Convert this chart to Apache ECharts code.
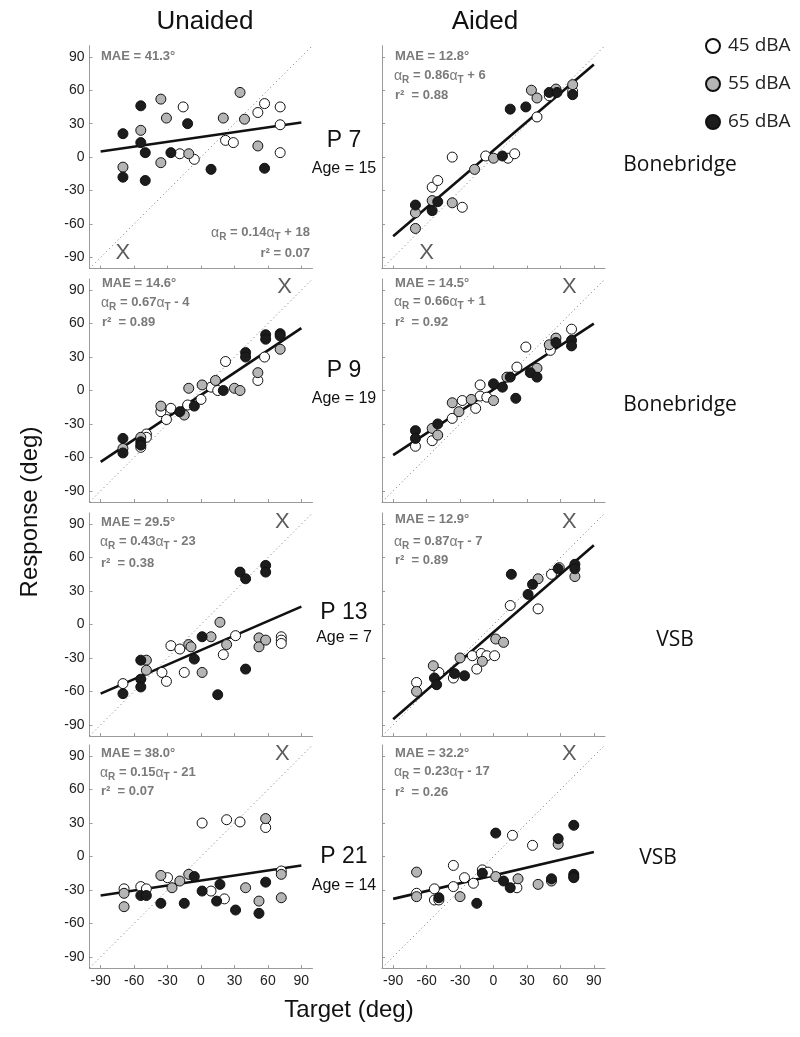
<!DOCTYPE html>
<html><head><meta charset="utf-8">
<script src="https://cdn.jsdelivr.net/npm/echarts@6/dist/echarts.min.js"></script>
<style>html,body{margin:0;padding:0;background:#fff}#c{width:800px;height:1037px}</style>
</head><body><div id="c"></div>
<script>
// ---------- data ----------
const ticks = [-90, -60, -30, 0, 30, 60, 90];
const conditions = ['Unaided', 'Aided'];
const participants = ['P 7', 'P 9', 'P 13', 'P 21'];
const ages = ['Age = 15', 'Age = 19', 'Age = 7', 'Age = 14'];
const devices = ['Bonebridge', 'Bonebridge', 'VSB', 'VSB'];
const levels = ['45 dBA', '55 dBA', '65 dBA'];

// P7 unaided
const p7U_45 = [[-19,3],[-16,45],[-6,-2],[22,15],[29,13],[51,40],[57,48],[71,45],[71,29],[71,4]];
const p7U_55 = [[-70,-9],[-54,24],[-36,52],[-36,-5],[-31,35],[-11,3],[20,35],[35,58],[39,34],[51,10]];
const p7U_65 = [[-70,21],[-70,-18],[-54,46],[-54,13],[-50,4],[-50,-21],[-27,4],[-12,30],[9,-11],[57,-10]];
// P7 aided
const p7A_45 = [[-55,-27],[-50,-21],[-37,0],[-28,-45],[-7,1],[13,-1],[19,3],[39,36],[50,55],[71,59]];
const p7A_55 = [[-70,-50],[-70,-64],[-55,-39],[-37,-41],[-17,-11],[0,-1],[34,60],[39,53],[56,61],[71,65]];
const p7A_65 = [[-70,-43],[-50,-40],[-55,-48],[8,1],[15,43],[29,45],[50,58],[57,58],[71,56]];
// P9 unaided
const p9U_45 = [[-54,-51],[-49,-39],[-49,-42],[-36,-19],[-31,-26],[-27,-16],[-12,-13],[0,-8],[9,3],[15,0],[22,26],[51,9],[57,30]];
const p9U_55 = [[-70,-52],[-54,-42],[-36,-14],[-15,-22],[-11,2],[1,5],[13,9],[30,2],[35,0],[51,16],[71,37]];
const p9U_65 = [[-70,-43],[-70,-56],[-54,-46],[-54,-49],[-19,-19],[-6,-14],[20,0],[40,34],[40,30],[58,50],[58,46],[71,51],[71,49]];
// P9 aided
const p9A_45 = [[-70,-50],[-55,-45],[-37,-25],[-28,-9],[-16,-16],[-12,5],[-12,-5],[-6,-6],[21,21],[29,39],[51,36],[70,55]];
const p9A_55 = [[-55,-34],[-50,-40],[-37,-11],[-31,-19],[-20,-8],[0,-9],[12,12],[39,20],[50,41],[56,47]];
const p9A_65 = [[-70,-36],[-70,-43],[-50,-30],[0,6],[8,3],[15,12],[20,-7],[33,16],[39,12],[56,43],[70,45],[70,40]];
// P13 unaided
const p13U_45 = [[-70,-53],[-35,-43],[-31,-51],[-27,-19],[-19,-22],[-15,-43],[20,-27],[31,-10],[72,-11],[72,-14],[72,-17]];
const p13U_55 = [[-49,-32],[-49,-41],[-11,-18],[-9,-20],[1,-43],[9,-11],[17,2],[23,-18],[52,-12],[52,-20],[58,-14]];
const p13U_65 = [[-70,-62],[-54,-32],[-54,-49],[-54,-56],[-6,-31],[1,-11],[15,-63],[35,47],[40,41],[40,-40],[58,53],[58,47]];
// P13 aided
const p13A_45 = [[-69,-52],[-49,-43],[-36,-48],[-19,-28],[-15,-40],[-11,-26],[-6,-28],[1,-28],[15,17],[40,14],[52,45],[59,51]];
const p13A_55 = [[-69,-60],[-54,-37],[-30,-30],[-10,-33],[2,-13],[9,-16],[40,41],[73,43]];
const p13A_65 = [[-53,-48],[-51,-54],[-35,-44],[-26,-46],[16,45],[31,27],[35,36],[58,50],[73,54],[73,50]];
// P21 unaided
const p21U_45 = [[-69,-29],[-54,-27],[-49,-29],[-30,-19],[1,30],[9,-31],[21,-38],[23,33],[35,31],[58,26],[72,-13]];
const p21U_55 = [[-69,-33],[-69,-45],[-36,-17],[-26,-28],[-19,-22],[-11,-16],[40,-28],[52,-40],[58,34],[72,-16],[72,-37]];
const p21U_65 = [[-54,-35],[-49,-35],[-36,-42],[-15,-42],[-6,-18],[1,-31],[14,-40],[17,-25],[31,-48],[52,-51],[58,-23]];
// P21 aided
const p21A_45 = [[-69,-33],[-53,-29],[-53,-39],[-49,-39],[-36,-8],[-36,-27],[-26,-19],[-18,-24],[-10,-12],[-5,-14],[17,19],[21,-28],[35,10]];
const p21A_55 = [[-69,-14],[-69,-36],[-30,-36],[2,-18],[22,-20],[40,-25],[52,-22],[58,11]];
const p21A_65 = [[-49,-37],[-15,-42],[-10,-15],[2,21],[9,-22],[15,-28],[52,-20],[58,16],[72,28],[72,-16],[72,-18],[72,-19]];

// regression line end points
const fitLines = [
  [[-90,5],[90,31]],   [[-90,-71],[90,83]],
  [[-90,-64],[90,56]], [[-90,-58],[90,60]],
  [[-90,-62],[90,16]], [[-90,-85],[90,71]],
  [[-90,-35],[90,-8]], [[-90,-38],[90,4]]
];
// X marker positions
const xMarks = [[-70,-86],[-60,-86],[75,93],[68,93],[73,92],[68,92],[73,92],[68,92]];
// stats
const maeVals = ['41.3','12.8','14.6','14.5','29.5','12.9','38.0','32.2'];
const slopeVals = ['0.14','0.86','0.67','0.66','0.43','0.87','0.15','0.23'];
const interceptVals = ['+ 18','+ 6','- 4','+ 1','- 23','- 7','- 21','- 17'];
const r2Vals = ['0.07','0.88','0.89','0.92','0.38','0.89','0.07','0.26'];

const panelData = [
  [p7U_45,p7U_55,p7U_65],[p7A_45,p7A_55,p7A_65],
  [p9U_45,p9U_55,p9U_65],[p9A_45,p9A_55,p9A_65],
  [p13U_45,p13U_55,p13U_65],[p13A_45,p13A_55,p13A_65],
  [p21U_45,p21U_55,p21U_65],[p21A_45,p21A_55,p21A_65]
];

// ---------- layout / style ----------
const colLeft = [89.5, 382];
const rowTop = [45.6, 279, 513, 745];
const size = 223;
const fillColors = ['#ffffff', '#b5b5b5', '#1c1c1c'];
const axisGray = '#9a9a9a';
const statGray = '#7a7a7a';
const SANS = 'Liberation Sans, Arial, Helvetica, sans-serif';
const MYRIAD = 'Open Sans, Noto Sans, sans-serif';

// stat text positions per panel: [x, yMAE, yEq, yR2, align]
const statPos = [
  [101, 58, 233, 255, 'bottomRight'], [395, 58, 76, 97],
  [102, 285, 303, 324], [395, 285, 302, 324],
  [101, 524, 542, 565], [395, 521, 542, 562],
  [101, 755, 773, 793], [395, 755, 772, 794]
];
const pLabelY = [141, 371, 613, 857];
const ageLabelY = [169, 399, 638, 886];
const deviceY = [165, 405, 640, 858];
const deviceX = [680, 680, 675, 658];

const grids = [], xAxes = [], yAxes = [], series = [], graphics = [];

for (let i = 0; i < 8; i++) {
  const r = Math.floor(i / 2), c = i % 2;
  grids.push({left: colLeft[c], top: rowTop[r], width: size, height: size});
  xAxes.push({
    type: 'value', gridIndex: i, min: -100, max: 100,
    axisLine: {show: true, onZero: false, lineStyle: {color: axisGray, width: 1}},
    axisTick: {show: true, inside: true, length: 3, customValues: ticks, lineStyle: {color: axisGray}},
    axisLabel: {show: r === 3, customValues: ticks, fontSize: 14, color: '#222', fontFamily: SANS, margin: 6},
    splitLine: {show: false}
  });
  yAxes.push({
    type: 'value', gridIndex: i, min: -100, max: 100,
    axisLine: {show: true, onZero: false, lineStyle: {color: axisGray, width: 1}},
    axisTick: {show: true, inside: true, length: 3, customValues: ticks, lineStyle: {color: axisGray}},
    axisLabel: {show: c === 0, customValues: ticks, fontSize: 14, color: '#222', fontFamily: SANS, margin: 5},
    splitLine: {show: false}
  });
  // identity diagonal
  series.push({
    type: 'line', xAxisIndex: i, yAxisIndex: i, data: [[-100,-100],[100,100]],
    symbol: 'none', silent: true, z: 1,
    lineStyle: {color: '#777', width: 1, type: [1, 3]}
  });
  // regression
  series.push({
    type: 'line', xAxisIndex: i, yAxisIndex: i, data: fitLines[i],
    symbol: 'none', silent: true, z: 3,
    lineStyle: {color: '#111', width: 2.6}
  });
  // points
  for (let k = 0; k < 3; k++) {
    series.push({
      name: levels[k], type: 'scatter', xAxisIndex: i, yAxisIndex: i,
      data: panelData[i][k], symbol: 'circle', symbolSize: 10, z: 4,
      itemStyle: {color: fillColors[k], borderColor: '#111', borderWidth: 1, opacity: 1}
    });
  }
  // X marker
  series.push({
    type: 'scatter', xAxisIndex: i, yAxisIndex: i, data: [xMarks[i]],
    symbolSize: 1, z: 5, silent: true,
    itemStyle: {color: 'rgba(0,0,0,0)'},
    label: {show: true, position: 'inside', formatter: 'X', fontSize: 22, color: '#333', fontFamily: SANS}
  });

  // stats text
  const sp = statPos[i];
  const eqText = '{g|α}{s|R}{b| = ' + slopeVals[i] + '}{g|α}{s|T}{b| ' + interceptVals[i] + '}';
  const rich = {
    g: {fontSize: 14, fontFamily: SANS, fill: statGray, lineHeight: 14, verticalAlign: 'top'},
    s: {fontSize: 10, fontFamily: SANS, fontWeight: 'bold', fill: statGray, lineHeight: 14, padding: [6,0,0,0], verticalAlign: 'top'},
    b: {fontSize: 13, fontFamily: SANS, fontWeight: 'bold', fill: statGray, lineHeight: 14, verticalAlign: 'top'}
  };
  graphics.push({type: 'text', left: sp[0], top: sp[1] - 8, z: 10,
    style: {text: 'MAE = ' + maeVals[i] + '°', font: 'bold 13px ' + SANS, fill: statGray}});
  if (sp[4] === 'bottomRight') {
    graphics.push({type: 'text', right: 800 - 310, top: sp[2] - 7, z: 10, style: {text: eqText, rich: rich}});
    graphics.push({type: 'text', right: 800 - 310, top: sp[3] - 8, z: 10,
      style: {text: 'r² = ' + r2Vals[i], font: 'bold 13px ' + SANS, fill: statGray}});
  } else {
    graphics.push({type: 'text', left: sp[0] - 1, top: sp[2] - 7, z: 10, style: {text: eqText, rich: rich}});
    graphics.push({type: 'text', left: sp[0], top: sp[3] - 8, z: 10,
      style: {text: 'r²  = ' + r2Vals[i], font: 'bold 13px ' + SANS, fill: statGray}});
  }
}

// participant / age / device labels
for (let r = 0; r < 4; r++) {
  graphics.push({type: 'text', x: 344, y: pLabelY[r], z: 10,
    style: {text: participants[r], font: '23px ' + SANS, fill: '#111', textAlign: 'center', textVerticalAlign: 'middle'}});
  graphics.push({type: 'text', x: 344, y: ageLabelY[r], z: 10,
    style: {text: ages[r], font: '16px ' + SANS, fill: '#111', textAlign: 'center', textVerticalAlign: 'middle'}});
  graphics.push({type: 'text', x: deviceX[r], y: deviceY[r], z: 10,
    style: {text: devices[r], font: '21px ' + MYRIAD, fill: '#111', textAlign: 'center', textVerticalAlign: 'middle'}});
}
// column titles
graphics.push({type: 'text', x: 205, y: 22, style: {text: conditions[0], font: '26px ' + SANS, fill: '#111', textAlign: 'center', textVerticalAlign: 'middle'}});
graphics.push({type: 'text', x: 485, y: 22, style: {text: conditions[1], font: '26px ' + SANS, fill: '#111', textAlign: 'center', textVerticalAlign: 'middle'}});
// axis titles
graphics.push({type: 'text', x: 349, y: 1010, style: {text: 'Target (deg)', font: '24px ' + SANS, fill: '#111', textAlign: 'center', textVerticalAlign: 'middle'}});
graphics.push({type: 'text', x: 30, y: 512, rotation: Math.PI / 2,
  style: {text: 'Response (deg)', font: '24px ' + SANS, fill: '#111', textAlign: 'center', textVerticalAlign: 'middle'}});

const chart = echarts.init(document.getElementById('c'), null, {renderer: 'canvas'});
chart.setOption({
  animation: false,
  backgroundColor: '#fff',
  grid: grids, xAxis: xAxes, yAxis: yAxes, series: series,
  legend: {
    data: levels, orient: 'vertical', left: 700, top: 31,
    icon: 'circle', itemWidth: 14, itemHeight: 14, itemGap: 18,
    selectedMode: false,
    textStyle: {fontSize: 19, fontFamily: MYRIAD, color: '#222', lineHeight: 20, padding: [0,0,0,3]}
  },
  graphic: graphics
});
</script></body></html>
